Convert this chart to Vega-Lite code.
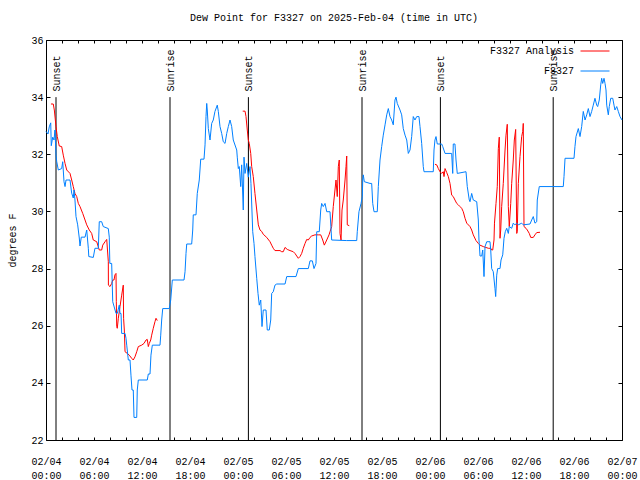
{
  "$schema": "https://vega.github.io/schema/vega-lite/v6.json",
  "autosize": "none",
  "width": 576,
  "height": 400,
  "padding": {"left": 46, "top": 40, "right": 18, "bottom": 40},
  "background": "white",
  "title": {"text": "Dew Point for F3327 on 2025-Feb-04 (time in UTC)", "font": "Liberation Mono", "fontSize": 10, "fontWeight": "normal", "color": "black", "anchor": "middle", "offset": 12},
  "datasets": {
    "events": [
      {"hour": 1.25, "event": "Sunset"}, {"hour": 15.5, "event": "Sunrise"}, {"hour": 25.3, "event": "Sunset"},
      {"hour": 39.5, "event": "Sunrise"}, {"hour": 49.3, "event": "Sunset"}, {"hour": 63.4, "event": "Sunrise"}
    ],
    "analysis": [
      {"seg":1,"hour":0.62,"value":33.76},{"seg":1,"hour":0.91,"value":33.76},{"seg":1,"hour":1.04,"value":33.55},{"seg":1,"hour":1.25,"value":32.97},{"seg":1,"hour":1.41,"value":32.62},{"seg":1,"hour":1.66,"value":32.29},{"seg":1,"hour":1.96,"value":32.27},{"seg":1,"hour":2.16,"value":31.97},{"seg":1,"hour":2.38,"value":31.68},{"seg":1,"hour":2.59,"value":31.45},{"seg":1,"hour":3.0,"value":31.33},{"seg":1,"hour":3.21,"value":31.1},{"seg":1,"hour":3.41,"value":30.87},{"seg":1,"hour":3.62,"value":30.63},{"seg":1,"hour":3.84,"value":30.52},{"seg":1,"hour":4.04,"value":30.28},{"seg":1,"hour":4.25,"value":30.17},{"seg":1,"hour":4.59,"value":29.93},{"seg":1,"hour":4.88,"value":29.7},{"seg":1,"hour":5.09,"value":29.53},{"seg":1,"hour":5.41,"value":29.35},{"seg":1,"hour":5.71,"value":29.23},{"seg":1,"hour":5.91,"value":29.0},{"seg":1,"hour":6.34,"value":28.94},{"seg":1,"hour":6.66,"value":28.65},{"seg":1,"hour":6.96,"value":28.65},{"seg":1,"hour":7.09,"value":28.82},{"seg":1,"hour":7.38,"value":28.94},{"seg":1,"hour":7.59,"value":29.02},{"seg":1,"hour":7.79,"value":28.24},{"seg":1,"hour":7.8,"value":27.42},{"seg":1,"hour":8.0,"value":27.37},{"seg":1,"hour":8.21,"value":27.48},{"seg":1,"hour":8.34,"value":27.6},{"seg":1,"hour":8.5,"value":27.6},{"seg":1,"hour":8.62,"value":27.78},{"seg":1,"hour":8.75,"value":27.83},{"seg":1,"hour":8.79,"value":26.84},{"seg":1,"hour":8.84,"value":25.97},{"seg":1,"hour":8.91,"value":25.91},{"seg":1,"hour":9.04,"value":26.26},{"seg":1,"hour":9.25,"value":26.67},{"seg":1,"hour":9.46,"value":27.07},{"seg":1,"hour":9.66,"value":27.42},{"seg":1,"hour":9.7,"value":26.26},{"seg":1,"hour":9.79,"value":25.85},{"seg":1,"hour":9.88,"value":25.09},{"seg":1,"hour":10.16,"value":25.03},{"seg":1,"hour":10.41,"value":24.97},{"seg":1,"hour":10.71,"value":24.86},{"seg":1,"hour":10.91,"value":24.8},{"seg":1,"hour":11.12,"value":24.91},{"seg":1,"hour":11.34,"value":25.09},{"seg":1,"hour":11.54,"value":25.27},{"seg":1,"hour":11.96,"value":25.32},{"seg":1,"hour":12.25,"value":25.38},{"seg":1,"hour":12.5,"value":25.5},{"seg":1,"hour":12.66,"value":25.52},{"seg":1,"hour":12.79,"value":25.27},{"seg":1,"hour":12.91,"value":25.38},{"seg":1,"hour":13.09,"value":25.5},{"seg":1,"hour":13.21,"value":25.67},{"seg":1,"hour":13.41,"value":25.91},{"seg":1,"hour":13.62,"value":26.14},{"seg":1,"hour":13.75,"value":26.26},{"seg":1,"hour":13.91,"value":26.18},
      {"seg":2,"hour":24.59,"value":33.51},{"seg":2,"hour":24.88,"value":33.51},{"seg":2,"hour":25.0,"value":33.32},{"seg":2,"hour":25.16,"value":32.85},{"seg":2,"hour":25.29,"value":32.5},{"seg":2,"hour":25.41,"value":32.38},{"seg":2,"hour":25.59,"value":32.03},{"seg":2,"hour":25.71,"value":31.57},{"seg":2,"hour":25.91,"value":31.22},{"seg":2,"hour":26.12,"value":30.63},{"seg":2,"hour":26.34,"value":30.05},{"seg":2,"hour":26.54,"value":29.53},{"seg":2,"hour":26.75,"value":29.35},{"seg":2,"hour":26.96,"value":29.3},{"seg":2,"hour":27.16,"value":29.2},{"seg":2,"hour":27.59,"value":29.09},{"seg":2,"hour":28.0,"value":28.94},{"seg":2,"hour":28.21,"value":28.82},{"seg":2,"hour":28.41,"value":28.71},{"seg":2,"hour":28.62,"value":28.63},{"seg":2,"hour":29.25,"value":28.63},{"seg":2,"hour":29.46,"value":28.59},{"seg":2,"hour":29.66,"value":28.59},{"seg":2,"hour":29.88,"value":28.74},{"seg":2,"hour":30.16,"value":28.67},{"seg":2,"hour":30.5,"value":28.63},{"seg":2,"hour":30.91,"value":28.59},{"seg":2,"hour":31.12,"value":28.53},{"seg":2,"hour":31.34,"value":28.44},{"seg":2,"hour":31.54,"value":28.36},{"seg":2,"hour":31.75,"value":28.42},{"seg":2,"hour":31.96,"value":28.53},{"seg":2,"hour":32.16,"value":28.71},{"seg":2,"hour":32.38,"value":28.88},{"seg":2,"hour":32.59,"value":29.02},{"seg":2,"hour":32.79,"value":29.0},{"seg":2,"hour":33.0,"value":29.09},{"seg":2,"hour":33.21,"value":29.14},{"seg":2,"hour":33.62,"value":29.18},{"seg":2,"hour":34.04,"value":29.18},{"seg":2,"hour":34.34,"value":29.18},{"seg":2,"hour":34.59,"value":29.0},{"seg":2,"hour":34.79,"value":28.82},{"seg":2,"hour":35.09,"value":29.0},{"seg":2,"hour":35.38,"value":29.18},{"seg":2,"hour":35.5,"value":29.29},{"seg":2,"hour":35.71,"value":29.47},{"seg":2,"hour":35.91,"value":30.17},{"seg":2,"hour":36.12,"value":30.75},{"seg":2,"hour":36.25,"value":31.1},{"seg":2,"hour":36.41,"value":30.52},{"seg":2,"hour":36.54,"value":31.57},{"seg":2,"hour":36.66,"value":31.8},{"seg":2,"hour":36.75,"value":29.23},{"seg":2,"hour":36.88,"value":29.0},{"seg":2,"hour":37.0,"value":30.05},{"seg":2,"hour":37.16,"value":30.4},{"seg":2,"hour":37.38,"value":31.1},{"seg":2,"hour":37.5,"value":31.57},{"seg":2,"hour":37.59,"value":31.94},{"seg":2,"hour":37.66,"value":29.53},{"seg":2,"hour":37.91,"value":29.5},
      {"seg":3,"hour":48.62,"value":31.65},{"seg":3,"hour":48.84,"value":31.63},{"seg":3,"hour":49.04,"value":31.5},{"seg":3,"hour":49.25,"value":31.39},{"seg":3,"hour":49.46,"value":31.33},{"seg":3,"hour":49.66,"value":31.39},{"seg":3,"hour":49.75,"value":31.22},{"seg":3,"hour":49.88,"value":31.5},{"seg":3,"hour":50.09,"value":31.36},{"seg":3,"hour":50.29,"value":31.22},{"seg":3,"hour":50.5,"value":30.98},{"seg":3,"hour":50.71,"value":30.57},{"seg":3,"hour":50.91,"value":30.52},{"seg":3,"hour":51.12,"value":30.4},{"seg":3,"hour":51.34,"value":30.28},{"seg":3,"hour":51.54,"value":30.23},{"seg":3,"hour":51.75,"value":30.17},{"seg":3,"hour":51.96,"value":30.11},{"seg":3,"hour":52.16,"value":29.99},{"seg":3,"hour":52.38,"value":29.76},{"seg":3,"hour":52.59,"value":29.59},{"seg":3,"hour":53.0,"value":29.47},{"seg":3,"hour":53.21,"value":29.35},{"seg":3,"hour":53.41,"value":29.18},{"seg":3,"hour":53.75,"value":28.98},{"seg":3,"hour":54.04,"value":28.88},{"seg":3,"hour":54.25,"value":28.82},{"seg":3,"hour":54.66,"value":28.77},{"seg":3,"hour":54.88,"value":28.75},{"seg":3,"hour":55.29,"value":28.71},{"seg":3,"hour":55.59,"value":28.71},{"seg":3,"hour":55.71,"value":28.65},{"seg":3,"hour":55.84,"value":28.65},{"seg":3,"hour":56.0,"value":29.0},{"seg":3,"hour":56.06,"value":29.59},{"seg":3,"hour":56.25,"value":30.28},{"seg":3,"hour":56.41,"value":30.87},{"seg":3,"hour":56.54,"value":32.2},{"seg":3,"hour":56.66,"value":32.6},{"seg":3,"hour":56.75,"value":29.06},{"seg":3,"hour":56.84,"value":29.35},{"seg":3,"hour":56.96,"value":30.17},{"seg":3,"hour":57.16,"value":30.98},{"seg":3,"hour":57.38,"value":32.15},{"seg":3,"hour":57.5,"value":32.67},{"seg":3,"hour":57.66,"value":33.05},{"seg":3,"hour":57.79,"value":30.17},{"seg":3,"hour":57.91,"value":29.47},{"seg":3,"hour":58.09,"value":30.28},{"seg":3,"hour":58.21,"value":30.98},{"seg":3,"hour":58.41,"value":31.8},{"seg":3,"hour":58.54,"value":32.5},{"seg":3,"hour":58.71,"value":32.87},{"seg":3,"hour":58.84,"value":29.23},{"seg":3,"hour":58.91,"value":29.29},{"seg":3,"hour":59.04,"value":30.98},{"seg":3,"hour":59.25,"value":31.92},{"seg":3,"hour":59.46,"value":32.62},{"seg":3,"hour":59.59,"value":32.8},{"seg":3,"hour":59.66,"value":33.08},{"seg":3,"hour":59.75,"value":29.47},{"seg":3,"hour":60.0,"value":29.41},{"seg":3,"hour":60.16,"value":29.35},{"seg":3,"hour":60.41,"value":29.23},{"seg":3,"hour":60.59,"value":29.09},{"seg":3,"hour":60.91,"value":29.09},{"seg":3,"hour":61.12,"value":29.18},{"seg":3,"hour":61.34,"value":29.26},{"seg":3,"hour":61.75,"value":29.27}
    ],
    "obs": [
      {"hour":0,"value":32.8},{"hour":0.25,"value":32.71},{"hour":0.41,"value":32.96},{"hour":0.59,"value":33.1},{"hour":0.66,"value":32.3},{"hour":0.84,"value":32.6},{"hour":1.0,"value":32.5},{"hour":1.12,"value":32.85},{"hour":1.25,"value":31.97},{"hour":1.34,"value":31.74},{"hour":1.54,"value":31.45},{"hour":1.96,"value":31.5},{"hour":2.09,"value":31.74},{"hour":2.25,"value":31.04},{"hour":2.38,"value":30.87},{"hour":2.5,"value":31.1},{"hour":3.0,"value":31.1},{"hour":3.21,"value":30.64},{"hour":3.41,"value":30.47},{"hour":3.5,"value":30.75},{"hour":3.62,"value":30.4},{"hour":3.75,"value":29.82},{"hour":3.96,"value":29.53},{"hour":4.16,"value":29.07},{"hour":4.25,"value":28.79},{"hour":4.41,"value":29.1},{"hour":4.88,"value":29.1},{"hour":5.09,"value":29.35},{"hour":5.29,"value":28.71},{"hour":5.35,"value":28.42},{"hour":5.91,"value":28.39},{"hour":6.12,"value":28.71},{"hour":6.54,"value":28.71},{"hour":6.66,"value":29.64},{"hour":6.96,"value":29.64},{"hour":7.16,"value":29.47},{"hour":7.79,"value":29.4},{"hour":7.91,"value":29.1},{"hour":7.98,"value":28.18},{"hour":8.21,"value":28.18},{"hour":8.34,"value":26.84},{"hour":8.75,"value":26.43},{"hour":8.91,"value":26.43},{"hour":9.16,"value":26.72},{"hour":9.25,"value":26.43},{"hour":9.38,"value":26.43},{"hour":9.46,"value":25.73},{"hour":9.88,"value":25.73},{"hour":10.0,"value":25.56},{"hour":10.09,"value":25.32},{"hour":10.29,"value":24.8},{"hour":10.5,"value":24.8},{"hour":10.62,"value":24.27},{"hour":10.75,"value":23.75},{"hour":10.91,"value":23.75},{"hour":11.0,"value":22.79},{"hour":11.34,"value":22.79},{"hour":11.41,"value":23.75},{"hour":11.54,"value":24.1},{"hour":12.66,"value":24.1},{"hour":12.79,"value":24.31},{"hour":13.0,"value":24.31},{"hour":13.12,"value":24.97},{"hour":13.29,"value":25.32},{"hour":14.25,"value":25.32},{"hour":14.34,"value":25.67},{"hour":14.46,"value":26.2},{"hour":14.59,"value":26.6},{"hour":15.41,"value":26.6},{"hour":15.59,"value":26.9},{"hour":15.79,"value":27.6},{"hour":17.25,"value":27.6},{"hour":17.38,"value":27.89},{"hour":17.5,"value":28.53},{"hour":17.59,"value":28.86},{"hour":18.21,"value":28.86},{"hour":18.34,"value":29.35},{"hour":18.41,"value":29.88},{"hour":18.75,"value":29.88},{"hour":18.91,"value":30.63},{"hour":19.16,"value":31.1},{"hour":19.34,"value":31.83},{"hour":19.75,"value":31.83},{"hour":19.88,"value":32.33},{"hour":20.0,"value":33.32},{"hour":20.09,"value":33.78},{"hour":20.16,"value":33.55},{"hour":20.29,"value":32.9},{"hour":20.5,"value":32.5},{"hour":20.71,"value":33.08},{"hour":20.91,"value":33.2},{"hour":21.12,"value":33.5},{"hour":21.41,"value":33.72},{"hour":21.54,"value":33.5},{"hour":21.75,"value":32.97},{"hour":21.96,"value":32.73},{"hour":22.16,"value":32.44},{"hour":22.38,"value":32.38},{"hour":22.59,"value":32.73},{"hour":22.79,"value":32.97},{"hour":23.0,"value":33.2},{"hour":23.21,"value":32.97},{"hour":23.41,"value":32.5},{"hour":23.84,"value":32.15},{"hour":23.91,"value":31.9},{"hour":24.04,"value":31.5},{"hour":24.16,"value":31.57},{"hour":24.34,"value":30.87},{"hour":24.46,"value":31.63},{"hour":24.66,"value":30.05},{"hour":24.75,"value":31.9},{"hour":24.88,"value":31.33},{"hour":25.09,"value":31.68},{"hour":25.29,"value":31.2},{"hour":25.5,"value":31.57},{"hour":25.62,"value":30.98},{"hour":25.84,"value":29.29},{"hour":26.0,"value":28.88},{"hour":26.12,"value":28.42},{"hour":26.34,"value":27.66},{"hour":26.5,"value":27.13},{"hour":26.66,"value":26.72},{"hour":26.84,"value":26.9},{"hour":27.0,"value":25.97},{"hour":27.16,"value":26.55},{"hour":27.5,"value":26.55},{"hour":27.66,"value":25.85},{"hour":27.91,"value":25.85},{"hour":28.09,"value":26.2},{"hour":28.21,"value":27.13},{"hour":28.41,"value":27.19},{"hour":28.62,"value":27.42},{"hour":28.84,"value":27.46},{"hour":29.88,"value":27.46},{"hour":30.09,"value":27.72},{"hour":31.25,"value":27.72},{"hour":31.54,"value":28.0},{"hour":32.79,"value":28.0},{"hour":33.0,"value":28.27},{"hour":33.29,"value":28.27},{"hour":33.5,"value":28.0},{"hour":33.75,"value":28.18},{"hour":33.84,"value":29.29},{"hour":34.16,"value":29.29},{"hour":34.34,"value":30.05},{"hour":34.46,"value":30.28},{"hour":34.66,"value":30.17},{"hour":34.88,"value":30.28},{"hour":35.09,"value":29.99},{"hour":35.5,"value":29.99},{"hour":35.71,"value":29.0},{"hour":37.59,"value":28.98},{"hour":38.84,"value":28.98},{"hour":38.91,"value":29.29},{"hour":39.12,"value":29.99},{"hour":39.38,"value":30.28},{"hour":39.54,"value":30.52},{"hour":39.59,"value":31.1},{"hour":39.66,"value":31.28},{"hour":39.79,"value":31.04},{"hour":40.5,"value":30.98},{"hour":40.71,"value":30.98},{"hour":40.84,"value":30.28},{"hour":41.0,"value":29.99},{"hour":41.41,"value":29.99},{"hour":41.54,"value":30.87},{"hour":41.75,"value":31.8},{"hour":41.96,"value":32.27},{"hour":42.16,"value":32.67},{"hour":42.38,"value":33.03},{"hour":42.59,"value":33.38},{"hour":42.79,"value":33.6},{"hour":43.0,"value":33.32},{"hour":43.21,"value":33.2},{"hour":43.41,"value":33.03},{"hour":43.62,"value":33.9},{"hour":43.75,"value":34.0},{"hour":43.91,"value":33.78},{"hour":44.25,"value":33.55},{"hour":44.46,"value":33.38},{"hour":44.66,"value":32.9},{"hour":44.88,"value":32.67},{"hour":45.09,"value":32.5},{"hour":45.29,"value":32.03},{"hour":45.5,"value":32.15},{"hour":45.71,"value":32.62},{"hour":45.91,"value":33.32},{"hour":46.12,"value":33.2},{"hour":46.34,"value":33.32},{"hour":46.62,"value":33.32},{"hour":46.75,"value":32.97},{"hour":46.96,"value":32.38},{"hour":47.16,"value":31.57},{"hour":47.25,"value":31.39},{"hour":48.41,"value":31.39},{"hour":48.5,"value":32.15},{"hour":48.62,"value":32.5},{"hour":48.75,"value":32.62},{"hour":48.91,"value":32.36},{"hour":49.46,"value":32.36},{"hour":49.59,"value":32.27},{"hour":49.88,"value":32.03},{"hour":50.71,"value":32.03},{"hour":50.84,"value":31.33},{"hour":50.91,"value":32.36},{"hour":51.12,"value":32.36},{"hour":51.25,"value":31.8},{"hour":51.41,"value":31.33},{"hour":52.5,"value":31.39},{"hour":52.66,"value":30.87},{"hour":52.91,"value":30.4},{"hour":53.0,"value":30.34},{"hour":53.21,"value":30.63},{"hour":53.41,"value":30.4},{"hour":53.84,"value":30.34},{"hour":54.04,"value":29.7},{"hour":54.12,"value":29.0},{"hour":54.16,"value":28.88},{"hour":54.25,"value":28.44},{"hour":54.46,"value":28.44},{"hour":54.59,"value":28.65},{"hour":54.75,"value":27.72},{"hour":54.88,"value":28.77},{"hour":55.09,"value":28.94},{"hour":55.5,"value":28.94},{"hour":55.59,"value":28.65},{"hour":55.71,"value":28.0},{"hour":55.91,"value":27.89},{"hour":56.12,"value":27.31},{"hour":56.21,"value":27.02},{"hour":56.34,"value":27.77},{"hour":56.46,"value":28.0},{"hour":56.75,"value":28.0},{"hour":56.88,"value":28.3},{"hour":57.09,"value":28.48},{"hour":57.25,"value":29.06},{"hour":57.41,"value":29.29},{"hour":57.59,"value":29.41},{"hour":57.79,"value":29.23},{"hour":57.91,"value":29.47},{"hour":58.21,"value":29.41},{"hour":58.41,"value":29.59},{"hour":58.62,"value":29.53},{"hour":58.84,"value":29.59},{"hour":59.04,"value":29.53},{"hour":59.46,"value":29.59},{"hour":59.66,"value":29.53},{"hour":60.5,"value":29.56},{"hour":60.71,"value":29.7},{"hour":60.91,"value":29.82},{"hour":61.12,"value":29.59},{"hour":61.34,"value":29.64},{"hour":61.41,"value":30.4},{"hour":61.66,"value":30.87},{"hour":64.66,"value":30.87},{"hour":64.75,"value":31.22},{"hour":64.88,"value":31.86},{"hour":66.0,"value":31.86},{"hour":66.12,"value":32.27},{"hour":66.25,"value":32.62},{"hour":66.54,"value":32.9},{"hour":66.75,"value":32.62},{"hour":66.96,"value":32.97},{"hour":67.16,"value":33.5},{"hour":67.38,"value":33.2},{"hour":67.59,"value":33.38},{"hour":67.79,"value":33.6},{"hour":68.0,"value":33.32},{"hour":68.21,"value":33.5},{"hour":68.41,"value":33.72},{"hour":68.62,"value":33.96},{"hour":68.84,"value":33.72},{"hour":68.96,"value":33.67},{"hour":69.16,"value":33.9},{"hour":69.34,"value":34.43},{"hour":69.46,"value":34.66},{"hour":69.59,"value":34.48},{"hour":69.75,"value":34.66},{"hour":69.88,"value":34.48},{"hour":70.0,"value":34.25},{"hour":70.09,"value":33.72},{"hour":70.29,"value":33.38},{"hour":70.41,"value":33.67},{"hour":70.59,"value":33.96},{"hour":70.84,"value":33.96},{"hour":71.0,"value":33.72},{"hour":71.12,"value":33.55},{"hour":71.34,"value":33.67},{"hour":71.54,"value":33.5},{"hour":71.75,"value":33.32},{"hour":72.0,"value":33.2}
    ]
  },
  "layer": [
    {
      "data": {"name": "events"},
      "mark": {"type": "rule", "color": "black", "strokeWidth": 1},
      "encoding": {
        "x": {"field": "hour", "type": "quantitative", "scale": {"domain": [0, 72], "nice": false, "zero": false},
              "axis": {"orient": "top", "values": [0,2,4,6,8,10,12,14,16,18,20,22,24,26,28,30,32,34,36,38,40,42,44,46,48,50,52,54,56,58,60,62,64,66,68,70,72], "labels": false, "title": null, "tickSize": -3}},
        "y": {"datum": 22, "type": "quantitative", "scale": {"domain": [22, 36], "nice": false, "zero": false},
              "axis": {"orient": "right", "values": [22,24,26,28,30,32,34,36], "labels": false, "title": null, "tickSize": -4}},
        "y2": {"datum": 34}
      }
    },
    {
      "data": {"name": "analysis"},
      "mark": {"type": "line", "strokeWidth": 1, "interpolate": "linear"},
      "encoding": {
        "x": {"field": "hour", "type": "quantitative",
              "axis": {"orient": "bottom", "values": [0,2,4,6,8,10,12,14,16,18,20,22,24,26,28,30,32,34,36,38,40,42,44,46,48,50,52,54,56,58,60,62,64,66,68,70,72], "title": null, "tickSize": -3, "labelPadding": 19, "labelLineHeight": 14, "labelOverlap": false, "labelFlush": false,
                       "labelExpr": "datum.value % 6 === 0 ? ['02/0' + (4 + floor(datum.value / 24)), (datum.value % 24 < 10 ? '0' : '') + (datum.value % 24) + ':00'] : ''"}},
        "y": {"field": "value", "type": "quantitative",
              "axis": {"orient": "left", "values": [22,24,26,28,30,32,34,36], "title": "degrees F", "tickSize": -4, "labelPadding": 7, "titlePadding": 13}},
        "detail": {"field": "seg"},
        "color": {"datum": "F3327 Analysis", "scale": {"domain": ["F3327 Analysis", "F3327"], "range": ["#ff0000", "#0080ff"]},
                  "legend": {"title": null, "orient": "none", "legendX": 534, "legendY": -4, "labelAlign": "right", "labelOffset": -36, "symbolType": "stroke", "symbolSize": 841, "symbolStrokeWidth": 1, "rowPadding": -17, "padding": 0, "labelFont": "Liberation Mono", "labelFontSize": 10, "labelColor": "black"}}
      }
    },
    {
      "data": {"name": "obs"},
      "mark": {"type": "line", "strokeWidth": 1, "interpolate": "linear"},
      "encoding": {
        "x": {"field": "hour", "type": "quantitative", "axis": null},
        "y": {"field": "value", "type": "quantitative", "axis": null},
        "color": {"datum": "F3327"}
      }
    },
    {
      "data": {"name": "events"},
      "mark": {"type": "text", "angle": 270, "align": "left", "baseline": "middle", "font": "Liberation Mono", "fontSize": 10, "color": "black", "dy": 1},
      "encoding": {
        "x": {"field": "hour", "type": "quantitative", "axis": null},
        "y": {"datum": 34.2, "type": "quantitative", "axis": null},
        "text": {"field": "event"}
      }
    }
  ],
  "resolve": {"axis": {"x": "independent", "y": "independent"}},
  "config": {
    "font": "Liberation Mono",
    "view": {"stroke": "black", "strokeWidth": 1},
    "axis": {"domain": false, "grid": false, "tickColor": "black", "labelColor": "black", "labelFont": "Liberation Mono", "labelFontSize": 10, "titleFont": "Liberation Mono", "titleFontSize": 10, "titleFontWeight": "normal", "titleColor": "black"}
  }
}
